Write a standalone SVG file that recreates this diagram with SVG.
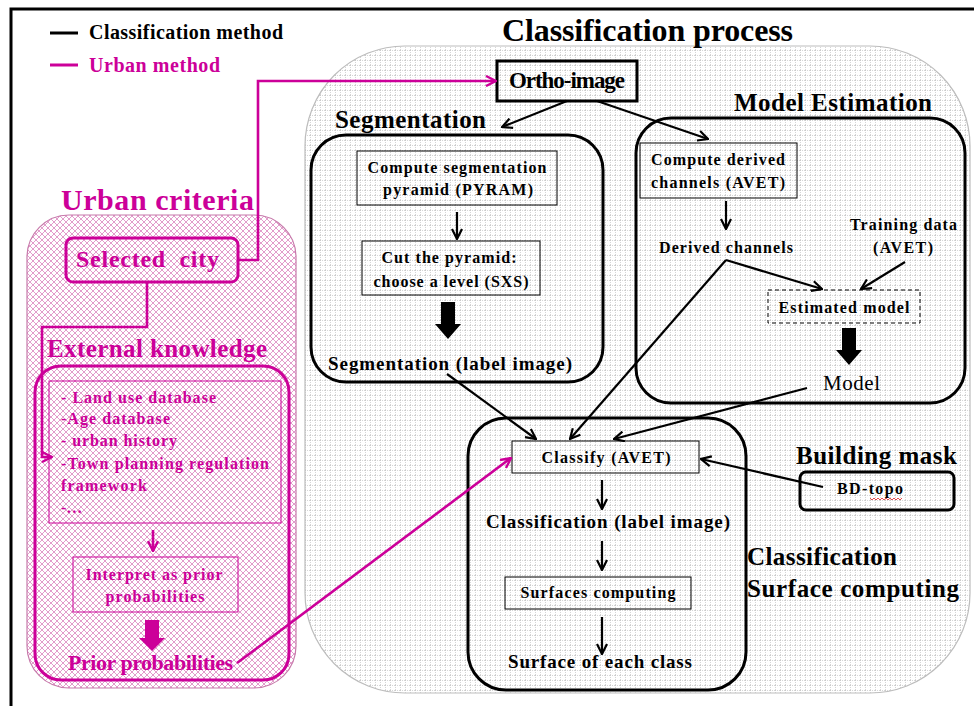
<svg xmlns="http://www.w3.org/2000/svg" width="974" height="706" viewBox="0 0 974 706">
<style>
text{font-family:"Liberation Serif","Times New Roman",serif;font-weight:bold;fill:#000}
.pk{fill:#cc0099}
.mid{text-anchor:middle}
.box{fill:none;stroke:#000;stroke-width:1}
.grp{fill:none;stroke:#000;stroke-width:3}
.cn{fill:none;stroke:#000;stroke-width:2.2}
.pcn{fill:none;stroke:#cc0099;stroke-width:2.6}
</style>
<defs>
<pattern id="grid" width="5" height="5" patternUnits="userSpaceOnUse">
<rect width="5" height="5" fill="#ffffff"/>
<path d="M0,0.5 H5 M0.5,0 V5" stroke="#c4c4c4" stroke-width="0.7" stroke-dasharray="1,1"/>
</pattern>
<pattern id="hatch" width="6" height="6" patternUnits="userSpaceOnUse">
<rect width="6" height="6" fill="#ffffff"/>
<path d="M0,0 L6,6 M6,0 L0,6" stroke="#e29ccb" stroke-width="1"/>
</pattern>
<marker id="ah" viewBox="0 0 12 12" refX="11" refY="6" markerWidth="12" markerHeight="12" orient="auto" markerUnits="userSpaceOnUse">
<path d="M1,1 L11,6 L1,11" fill="none" stroke="#000" stroke-width="2.2"/>
</marker>
<marker id="ahp" viewBox="0 0 12 12" refX="11" refY="6" markerWidth="12" markerHeight="12" orient="auto" markerUnits="userSpaceOnUse">
<path d="M1,1 L11,6 L1,11" fill="none" stroke="#cc0099" stroke-width="2.4"/>
</marker>
</defs>
<rect width="974" height="706" fill="#ffffff"/>
<path d="M11,706 V9 H974" fill="none" stroke="#000" stroke-width="3"/>

<g id="legend">
<line x1="50" y1="33" x2="78" y2="33" stroke="#000" stroke-width="3"/>
<text x="89" y="39" font-size="20" textLength="194">Classification method</text>
<line x1="50" y1="65" x2="78" y2="65" stroke="#cc0099" stroke-width="3"/>
<text x="89" y="72" font-size="20" class="pk" textLength="131">Urban method</text>
</g>

<g id="classification-process">
<rect x="305" y="46" width="665" height="647" rx="100" fill="url(#grid)" stroke="#bdbdbd" stroke-width="1.2"/>
<text x="502" y="41" font-size="32" textLength="291">Classification process</text>
</g>

<g id="urban-criteria">
<rect x="27" y="215" width="269" height="473" rx="42" fill="url(#hatch)" stroke="#c77aab" stroke-width="1.2"/>
<text x="61" y="210" font-size="30" class="pk" textLength="193">Urban criteria</text>
</g>

<g id="ortho-image">
<rect x="497" y="61" width="140" height="40" fill="none" stroke="#000" stroke-width="3"/>
<text x="567" y="88" font-size="23" class="mid" textLength="116">Ortho-image</text>
</g>

<g id="segmentation">
<rect x="311" y="135" width="292" height="247" rx="35" class="grp"/>
<text x="335" y="128" font-size="25" textLength="151">Segmentation</text>
</g>
<g id="compute-pyramid">
<rect x="357" y="151" width="200" height="54" class="box"/>
<text x="457" y="173" font-size="16" class="mid" textLength="179">Compute segmentation</text>
<text x="458" y="195" font-size="16" class="mid" textLength="150">pyramid (PYRAM)</text>
</g>
<g id="cut-pyramid">
<rect x="362" y="241" width="178" height="54" class="box"/>
<text x="449" y="263" font-size="16" class="mid" textLength="135">Cut the pyramid:</text>
<text x="451" y="287" font-size="16" class="mid" textLength="155">choose a level (SXS)</text>
</g>
<g id="segmentation-label">
<text x="450" y="370" font-size="19" class="mid" textLength="244">Segmentation (label image)</text>
</g>

<g id="model-estimation">
<rect x="636" y="118" width="329" height="285" rx="35" class="grp"/>
<text x="734" y="111" font-size="25" textLength="198">Model Estimation</text>
</g>
<g id="compute-derived">
<rect x="640" y="143" width="157" height="55" class="box"/>
<text x="651" y="165" font-size="16" textLength="134">Compute derived</text>
<text x="651" y="188" font-size="16" textLength="134">channels (AVET)</text>
</g>
<g id="derived-channels">
<text x="659" y="253" font-size="16" textLength="134">Derived channels</text>
</g>
<g id="training-data">
<text x="850" y="230" font-size="16" textLength="107">Training data</text>
<text x="903" y="253" font-size="16" class="mid" textLength="60">(AVET)</text>
</g>
<g id="estimated-model">
<rect x="768" y="290" width="152" height="33" fill="none" stroke="#000" stroke-width="1" stroke-dasharray="4,3"/>
<text x="844" y="313" font-size="16" class="mid" textLength="131">Estimated model</text>
</g>
<g id="model">
<text x="823" y="390" font-size="21" style="font-weight:normal" textLength="57">Model</text>
</g>

<g id="classification">
<rect x="468" y="418" width="278" height="272" rx="38" class="grp"/>
<text x="747" y="565" font-size="25" textLength="150">Classification</text>
<text x="747" y="597" font-size="25" textLength="212">Surface computing</text>
</g>
<g id="classify">
<rect x="512" y="441" width="187" height="32" class="box"/>
<text x="606" y="463" font-size="16" class="mid" textLength="129">Classify (AVET)</text>
</g>
<g id="classification-label">
<text x="608" y="528" font-size="19" class="mid" textLength="244">Classification (label image)</text>
</g>
<g id="surfaces-computing">
<rect x="505" y="577" width="186" height="32" class="box"/>
<text x="598" y="598" font-size="16" class="mid" textLength="155">Surfaces computing</text>
</g>
<g id="surface-each-class">
<text x="600" y="668" font-size="19" class="mid" textLength="184">Surface of each class</text>
</g>

<g id="building-mask">
<text x="796" y="464" font-size="25" textLength="161">Building mask</text>
<rect x="800" y="472" width="154" height="38" rx="6" class="grp"/>
<text x="870" y="494" font-size="16" class="mid" textLength="66">BD-topo</text>
<path d="M870,498 l2,2 l2,-2 l2,2 l2,-2 l2,2 l2,-2 l2,2 l2,-2 l2,2 l2,-2 l2,2 l2,-2 l2,2 l2,-2 l2,2 l2,-2" fill="none" stroke="#e02020" stroke-width="0.8"/>
</g>

<g id="selected-city">
<rect x="66" y="238" width="172" height="44" rx="7" fill="none" stroke="#cc0099" stroke-width="3"/>
<text x="76" y="267" font-size="24" class="pk" textLength="143" xml:space="preserve" style="white-space:pre">Selected  city</text>
</g>

<g id="external-knowledge">
<text x="47" y="357" font-size="25" class="pk" textLength="220">External knowledge</text>
<rect x="35" y="366" width="254" height="314" rx="26" fill="none" stroke="#cc0099" stroke-width="3"/>
</g>
<g id="databases">
<rect x="49" y="381" width="232" height="142" fill="none" stroke="#cc0099" stroke-width="1"/>
<text x="61" y="403" font-size="16" class="pk" textLength="155">- Land use database</text>
<text x="61" y="424" font-size="16" class="pk" textLength="109">-Age database</text>
<text x="61" y="446" font-size="16" class="pk" textLength="116">- urban history</text>
<text x="61" y="469" font-size="16" class="pk" textLength="208">-Town planning regulation</text>
<text x="61" y="491" font-size="16" class="pk" textLength="86">framework</text>
<text x="61" y="513" font-size="16" class="pk">-…</text>
</g>
<g id="interpret">
<rect x="73" y="557" width="165" height="55" fill="none" stroke="#cc0099" stroke-width="1"/>
<text x="154" y="580" font-size="16" class="pk mid" textLength="137">Interpret as prior</text>
<text x="155" y="602" font-size="16" class="pk mid" textLength="99">probabilities</text>
</g>
<g id="prior-probabilities">
<text x="68" y="670" font-size="22" class="pk" textLength="165">Prior probabilities</text>
</g>

<g id="connectors">
<path class="cn" d="M567,101 L502,127" marker-end="url(#ah)"/>
<path class="cn" d="M597,101 L708,139" marker-end="url(#ah)"/>
<path class="cn" d="M457,212 V239" marker-end="url(#ah)"/>
<polygon points="441,302 455,302 455,324 461,324 448,339 435,324 441,324" fill="#000"/>
<path class="cn" d="M726,201 V229" marker-end="url(#ah)"/>
<path class="cn" d="M726,260 L822,289" marker-end="url(#ah)"/>
<path class="cn" d="M726,260 L570,439" marker-end="url(#ah)"/>
<path class="cn" d="M905,262 L861,289" marker-end="url(#ah)"/>
<polygon points="842,328 856,328 856,350 862,350 849,365 836,350 842,350" fill="#000"/>
<path class="cn" d="M807,388 L614,439" marker-end="url(#ah)"/>
<path class="cn" d="M447,374 L536,439" marker-end="url(#ah)"/>
<path class="cn" d="M823,487 L701,459" marker-end="url(#ah)"/>
<path class="cn" d="M602,480 V509" marker-end="url(#ah)"/>
<path class="cn" d="M602,541 V570" marker-end="url(#ah)"/>
<path class="cn" d="M602,617 V654" marker-end="url(#ah)"/>
<path class="pcn" d="M238,260 H258 V81 H496" marker-end="url(#ahp)"/>
<path class="pcn" d="M147,282 V327 H42 V457 H52" marker-end="url(#ahp)"/>
<path class="pcn" d="M153,530 V551" stroke-width="2" marker-end="url(#ahp)"/>
<polygon points="145,620 159,620 159,638 165,638 152,651 139,638 145,638" fill="#cc0099"/>
<path class="pcn" d="M237,663 L511,458" marker-end="url(#ahp)"/>
</g>
</svg>
